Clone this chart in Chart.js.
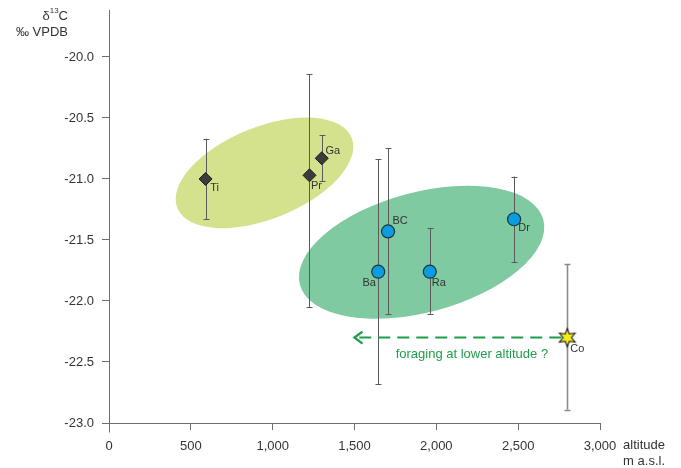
<!DOCTYPE html>
<html>
<head>
<meta charset="utf-8">
<script src="https://cdn.jsdelivr.net/npm/chart.js@4/dist/chart.umd.min.js"></script>
<style>
  html, body { margin: 0; padding: 0; background: #ffffff; }
  canvas { display: block; }
</style>
</head>
<body>
<canvas id="chart" width="681" height="468"></canvas>
<script>
// Sites, altitude (m a.s.l.) and mean δ13C (‰ VPDB) with the ends of their ranges
const sites    = ['Ti', 'Pr', 'Ga', 'Ba', 'BC', 'Ra', 'Dr', 'Co'];
const altitude = [590, 1225, 1300, 1645, 1705, 1960, 2475, 2800];
const d13C     = [-21.00, -20.97, -20.83, -21.76, -21.43, -21.76, -21.33, -22.30];
const rangeTop = [-20.67, -20.14, -20.64, -20.84, -20.75, -21.40, -20.98, -21.70];
const rangeBot = [-21.33, -22.05, -21.02, -22.68, -22.11, -22.11, -21.68, -22.89];
const siteGroup = ['low', 'low', 'low', 'mid', 'mid', 'mid', 'mid', 'high'];

// Axis ticks
const xTicks = [0, 500, 1000, 1500, 2000, 2500, 3000];
const yTicks = [-23.0, -22.5, -22.0, -21.5, -21.0, -20.5, -20.0];

// Arrow: from the Co site back to lower altitude
const arrowToAltitude = 1500;
const arrowText = 'foraging at lower altitude ?';

// Groupings drawn as ellipses (centre in data units, radii in px, tilt in degrees)
const clusters = [
  { cx: 950,  cy: -20.95, rx: 94,  ry: 46, tilt: -22, color: '#d5e28d' },
  { cx: 1910, cy: -21.60, rx: 126, ry: 60, tilt: -15, color: '#7fcaa1' }
];

// Label offsets next to each marker (px)
const labelOffset = {
  Ti: [9, 9], Pr: [7, 11], Ga: [11, -7], Ba: [-9, 11],
  BC: [12, -10], Ra: [9, 11], Dr: [10, 9], Co: [10, 11]
};

const FONT = "'Liberation Sans', Arial, Helvetica, sans-serif";
const AXIS_COLOR = '#6e6e6e';
const TEXT_COLOR = '#333333';
const GREEN = '#1f9d4c';
const Y_TOP = -19.615;

function pointsFor(group) {
  const pts = [];
  sites.forEach((s, i) => {
    if (siteGroup[i] === group) pts.push({ x: altitude[i], y: d13C[i], site: s });
  });
  return pts;
}

// Six-pointed yellow star used as the marker of the high-altitude site
function makeStar() {
  const c = document.createElement('canvas');
  c.width = 22; c.height = 22;
  const g = c.getContext('2d');
  const cx = 11, cy = 11, ro = 9, ri = 4.2, n = 6;
  g.beginPath();
  for (let k = 0; k < n * 2; k++) {
    const r = k % 2 === 0 ? ro : ri;
    const a = -Math.PI / 2 + k * Math.PI / n;
    const px = cx + r * Math.cos(a), py = cy + r * Math.sin(a);
    if (k === 0) g.moveTo(px, py); else g.lineTo(px, py);
  }
  g.closePath();
  g.fillStyle = '#f4ee1c';
  g.fill();
  g.lineWidth = 1.2;
  g.strokeStyle = '#262626';
  g.stroke();
  return c;
}

const clusterPlugin = {
  id: 'clusters',
  beforeDatasetsDraw(chart) {
    const { ctx, scales: { x, y } } = chart;
    ctx.save();
    clusters.forEach(e => {
      ctx.beginPath();
      ctx.ellipse(x.getPixelForValue(e.cx), y.getPixelForValue(e.cy),
        e.rx, e.ry, e.tilt * Math.PI / 180, 0, Math.PI * 2);
      ctx.fillStyle = e.color;
      ctx.fill();
    });

    // range bars
    sites.forEach((s, i) => {
      const px = Math.round(x.getPixelForValue(altitude[i])) + 0.5;
      const t = y.getPixelForValue(rangeTop[i]);
      const b = y.getPixelForValue(rangeBot[i]);
      const isHigh = siteGroup[i] === 'high';
      ctx.strokeStyle = isHigh ? '#8c8c8c' : '#5a5a5a';
      ctx.lineWidth = isHigh ? 1.6 : 1;
      ctx.beginPath();
      ctx.moveTo(px, t); ctx.lineTo(px, b);
      ctx.moveTo(px - 3, Math.round(t) + 0.5); ctx.lineTo(px + 3, Math.round(t) + 0.5);
      ctx.moveTo(px - 3, Math.round(b) + 0.5); ctx.lineTo(px + 3, Math.round(b) + 0.5);
      ctx.stroke();
    });

    // dashed arrow with caption
    const ci = sites.indexOf('Co');
    const ay = y.getPixelForValue(d13C[ci]);
    const ax0 = x.getPixelForValue(altitude[ci]) - 6;
    const ax1 = x.getPixelForValue(arrowToAltitude);
    ctx.strokeStyle = GREEN;
    ctx.lineWidth = 2;
    ctx.setLineDash([12, 7]);
    ctx.beginPath();
    ctx.moveTo(ax0, ay); ctx.lineTo(ax1 + 2, ay);
    ctx.stroke();
    ctx.setLineDash([]);
    ctx.lineWidth = 2.4;
    ctx.beginPath();
    ctx.moveTo(ax1 + 8, ay - 6); ctx.lineTo(ax1, ay); ctx.lineTo(ax1 + 8, ay + 6);
    ctx.stroke();
    ctx.fillStyle = GREEN;
    ctx.font = '13px ' + FONT;
    ctx.textAlign = 'center';
    ctx.textBaseline = 'middle';
    ctx.fillText(arrowText, (ax0 + ax1) / 2 + 14, ay + 17);
    ctx.restore();
  },
  afterDatasetsDraw(chart) {
    const { ctx, scales: { x, y } } = chart;
    ctx.save();
    ctx.fillStyle = TEXT_COLOR;
    ctx.font = '11px ' + FONT;
    ctx.textAlign = 'center';
    ctx.textBaseline = 'middle';
    sites.forEach((s, i) => {
      const o = labelOffset[s];
      ctx.fillText(s, x.getPixelForValue(altitude[i]) + o[0], y.getPixelForValue(d13C[i]) + o[1]);
    });
    ctx.restore();
  },
  afterDraw(chart) {
    const { ctx, scales: { x, y } } = chart;
    ctx.save();
    // axis lines, slightly overhanging at the origin
    const x0 = Math.round(x.getPixelForValue(0)) + 0.5;
    const y0 = Math.round(y.getPixelForValue(-23)) + 0.5;
    ctx.strokeStyle = AXIS_COLOR;
    ctx.lineWidth = 1;
    ctx.beginPath();
    ctx.moveTo(x0, y.getPixelForValue(Y_TOP)); ctx.lineTo(x0, y0 + 9);
    ctx.moveTo(x0 - 6, y0); ctx.lineTo(x.getPixelForValue(3000), y0);
    ctx.stroke();

    // axis titles
    ctx.fillStyle = TEXT_COLOR;
    ctx.textBaseline = 'middle';
    ctx.textAlign = 'right';
    ctx.font = '13px ' + FONT;
    ctx.fillText('altitude', 665, 445);
    ctx.fillText('m a.s.l.', 665, 461);

    // δ13C with superscript
    const right = 68;
    ctx.textAlign = 'left';
    ctx.font = '13px ' + FONT;
    const wC = ctx.measureText('C').width;
    const wD = ctx.measureText('δ').width;
    ctx.font = '8px ' + FONT;
    const wS = ctx.measureText('13').width;
    const sx = right - wC - wS - wD;
    ctx.font = '13px ' + FONT;
    ctx.fillText('δ', sx, 16);
    ctx.font = '8px ' + FONT;
    ctx.fillText('13', sx + wD, 11);
    ctx.font = '13px ' + FONT;
    ctx.fillText('C', sx + wD + wS, 16);
    ctx.textAlign = 'right';
    ctx.fillText('‰ VPDB', right, 32);
    ctx.restore();
  }
};

new Chart(document.getElementById('chart'), {
  type: 'scatter',
  data: {
    datasets: [
      {
        data: pointsFor('low'),
        pointStyle: 'rectRot', pointRadius: 6.5, pointHoverRadius: 6.5,
        backgroundColor: '#3c3c3c', borderColor: '#1c1c1c', borderWidth: 1
      },
      {
        data: pointsFor('mid'),
        pointStyle: 'circle', pointRadius: 6.5, pointHoverRadius: 6.5,
        backgroundColor: '#0b9de0', borderColor: '#1d3444', borderWidth: 1.2
      },
      {
        data: pointsFor('high'),
        pointStyle: makeStar(), pointRadius: 9,
        backgroundColor: '#f4ee1c', borderColor: '#262626', borderWidth: 1
      }
    ]
  },
  options: {
    responsive: false,
    animation: false,
    devicePixelRatio: 1,
    layout: { padding: { left: 0, right: 81, top: 10, bottom: 0 } },
    plugins: { legend: { display: false }, tooltip: { enabled: false } },
    scales: {
      x: {
        type: 'linear', min: 0, max: 3000,
        afterBuildTicks: s => { s.ticks = xTicks.map(v => ({ value: v })); },
        afterFit: s => { s.height = 45; s.paddingLeft = 0; s.paddingRight = 0; },
        border: { display: false },
        grid: { drawOnChartArea: false, drawTicks: true, tickLength: 7, color: AXIS_COLOR },
        ticks: {
          color: TEXT_COLOR, padding: 9, maxRotation: 0,
          font: { family: FONT, size: 13 },
          callback: v => v.toLocaleString('en-US')
        }
      },
      y: {
        type: 'linear', min: -23, max: Y_TOP,
        afterBuildTicks: s => { s.ticks = yTicks.map(v => ({ value: v })); },
        afterFit: s => { s.width = 109; s.paddingTop = 0; s.paddingBottom = 0; },
        border: { display: false },
        grid: { drawOnChartArea: false, drawTicks: true, tickLength: 7, color: AXIS_COLOR },
        ticks: {
          color: TEXT_COLOR, padding: 8,
          font: { family: FONT, size: 13 },
          callback: v => v.toFixed(1)
        }
      }
    }
  },
  plugins: [clusterPlugin]
});
</script>
</body>
</html>
